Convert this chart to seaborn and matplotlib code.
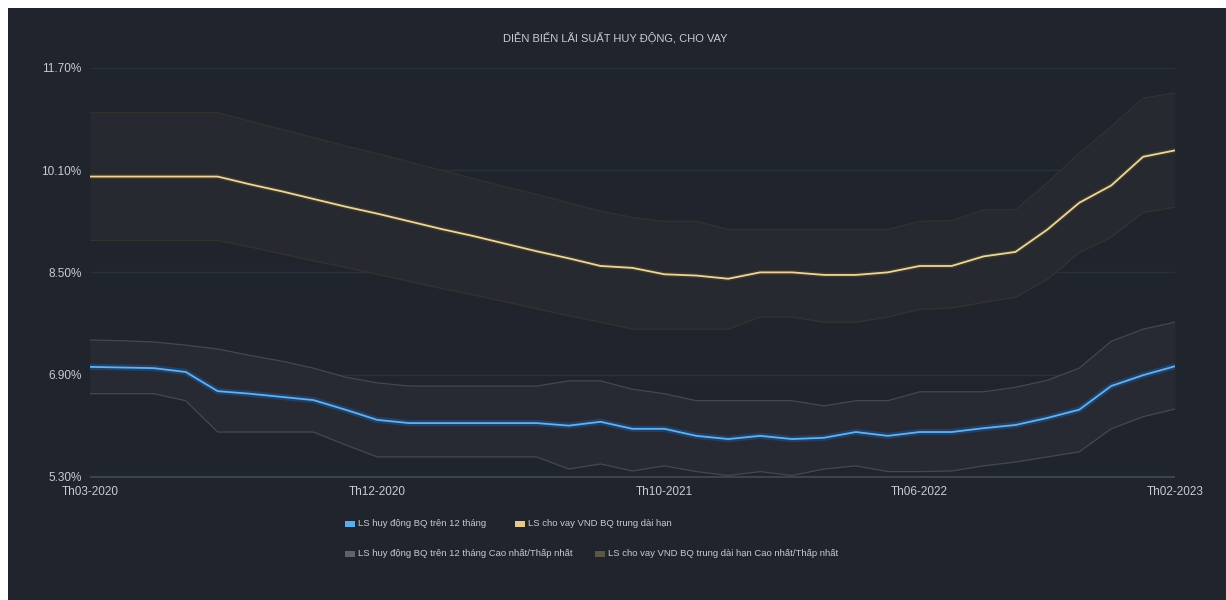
import numpy as np
import pandas as pd
import matplotlib
matplotlib.use("Agg")
import matplotlib.pyplot as plt
import seaborn as sns

# Monthly periods on the category axis
months = [
    "Th03-2020", "Th04-2020", "Th05-2020", "Th06-2020", "Th07-2020", "Th08-2020",
    "Th09-2020", "Th10-2020", "Th11-2020", "Th12-2020", "Th01-2021", "Th03-2021",
    "Th04-2021", "Th05-2021", "Th06-2021", "Th07-2021", "Th08-2021", "Th09-2021",
    "Th10-2021", "Th11-2021", "Th12-2021", "Th01-2022", "Th02-2022", "Th03-2022",
    "Th04-2022", "Th05-2022", "Th06-2022", "Th07-2022", "Th08-2022", "Th09-2022",
    "Th10-2022", "Th11-2022", "Th12-2022", "Th01-2023", "Th02-2023",
]
tick_labels = ["Th03-2020", "Th12-2020", "Th10-2021", "Th06-2022", "Th02-2023"]

# Average deposit rate (>12 months) with its high / low range, %
deposit_avg = [7.02, 7.01, 7.00, 6.94, 6.64, 6.60, 6.55, 6.50, 6.35, 6.19, 6.14, 6.14,
               6.14, 6.14, 6.14, 6.10, 6.16, 6.05, 6.05, 5.94, 5.89, 5.94, 5.89, 5.91,
               6.00, 5.94, 6.00, 6.00, 6.06, 6.11, 6.22, 6.35, 6.72, 6.89, 7.03]
deposit_high = [7.44, 7.43, 7.41, 7.36, 7.30, 7.20, 7.11, 7.00, 6.86, 6.77, 6.72, 6.72,
                6.72, 6.72, 6.72, 6.80, 6.80, 6.67, 6.60, 6.49, 6.49, 6.49, 6.49, 6.41,
                6.49, 6.49, 6.63, 6.63, 6.63, 6.70, 6.81, 7.00, 7.42, 7.61, 7.72]
deposit_low = [6.60, 6.60, 6.60, 6.49, 6.00, 6.00, 6.00, 6.00, 5.80, 5.61, 5.61, 5.61,
               5.61, 5.61, 5.61, 5.42, 5.50, 5.39, 5.47, 5.38, 5.32, 5.38, 5.32, 5.42,
               5.47, 5.38, 5.38, 5.39, 5.47, 5.53, 5.61, 5.69, 6.05, 6.24, 6.36]

# Average medium/long-term VND lending rate with its high / low range, %
lending_avg = [10.00, 10.00, 10.00, 10.00, 10.00, 9.88, 9.77, 9.65, 9.53, 9.42, 9.30, 9.18,
               9.07, 8.95, 8.83, 8.72, 8.60, 8.57, 8.47, 8.45, 8.40, 8.50, 8.50, 8.46,
               8.46, 8.50, 8.60, 8.60, 8.75, 8.82, 9.17, 9.59, 9.86, 10.31, 10.41]
lending_high = [11.00, 11.00, 11.00, 11.00, 11.00, 10.87, 10.74, 10.61, 10.48, 10.36, 10.23, 10.10,
                9.97, 9.84, 9.72, 9.59, 9.46, 9.36, 9.30, 9.30, 9.17, 9.17, 9.17, 9.17,
                9.17, 9.17, 9.30, 9.31, 9.48, 9.48, 9.90, 10.37, 10.78, 11.23, 11.31]
lending_low = [9.00, 9.00, 9.00, 9.00, 9.00, 8.90, 8.79, 8.68, 8.58, 8.47, 8.36, 8.25,
               8.15, 8.04, 7.93, 7.82, 7.72, 7.61, 7.61, 7.61, 7.61, 7.80, 7.80, 7.72,
               7.72, 7.80, 7.92, 7.94, 8.03, 8.11, 8.39, 8.81, 9.05, 9.44, 9.52]

y_ticks = [5.30, 6.90, 8.50, 10.10, 11.70]

title = "DIỄN BIẾN LÃI SUẤT HUY ĐỘNG, CHO VAY"
name_dep = "LS huy động BQ trên 12 tháng"
name_lend = "LS cho vay VND BQ trung dài hạn"
name_dep_rng = "LS huy động BQ trên 12 tháng Cao nhất/Thấp nhất"
name_lend_rng = "LS cho vay VND BQ trung dài hạn Cao nhất/Thấp nhất"

df = pd.DataFrame({
    "idx": np.arange(len(months)),
    "month": months,
    "dep": deposit_avg, "dep_hi": deposit_high, "dep_lo": deposit_low,
    "lend": lending_avg, "lend_hi": lending_high, "lend_lo": lending_low,
})

BG = "#1f242d"
TXT = "#c9ccd1"

sns.set_theme(style="dark")
plt.rcParams["font.family"] = ["Liberation Sans", "DejaVu Sans"]

fig = plt.figure(figsize=(12.26, 6.0), dpi=100)
fig.patch.set_facecolor("white")
# dark panel with a thin light frame on the top and left
fig.patches.append(plt.Rectangle((8 / 1226, 0), 1 - 8 / 1226, 1 - 8 / 600,
                                 transform=fig.transFigure, facecolor=BG,
                                 edgecolor="none", zorder=-5))

ax = fig.add_axes([90 / 1226, 1 - 478 / 600, (1175 - 90) / 1226, (478 - 68) / 600])
ax.set_zorder(2)
ax.set_facecolor(BG)
for s in ax.spines.values():
    s.set_visible(False)

# horizontal grid
for v in y_ticks:
    ax.axhline(v, color="#2a3039" if v != y_ticks[0] else "#3d434c",
               lw=1.0 if v != y_ticks[0] else 1.6, zorder=1)

x = df["idx"].to_numpy()

# ranges
ax.fill_between(x, df["lend_lo"], df["lend_hi"], color="#272930", zorder=2, lw=0)
ax.plot(x, df["lend_hi"], color="#33332e", lw=0.9, zorder=2.5)
ax.plot(x, df["lend_lo"], color="#33332e", lw=0.9, zorder=2.5)
ax.fill_between(x, df["dep_lo"], df["dep_hi"], color="#272a33", zorder=2, lw=0)
ax.plot(x, df["dep_hi"], color="#434851", lw=0.9, zorder=2.5)
ax.plot(x, df["dep_lo"], color="#434851", lw=0.9, zorder=2.5)

# glow under the average lines
ax.plot(x, df["dep"], color="#1c4677", lw=4.5, alpha=0.8, zorder=3,
        solid_capstyle="butt")
ax.plot(x, df["lend"], color="#4a3f22", lw=3.5, alpha=0.7, zorder=3,
        solid_capstyle="butt")

sns.lineplot(data=df, x="idx", y="dep", ax=ax, color="#67b1ea", lw=1.3, zorder=4)
sns.lineplot(data=df, x="idx", y="lend", ax=ax, color="#e8d6a4", lw=1.3, zorder=4)

ax.set_xlim(0, len(months) - 1)
ax.set_ylim(y_ticks[0] - 0.02, y_ticks[-1])
ax.set_xlabel("")
ax.set_ylabel("")

ax.set_yticks(y_ticks)
ax.set_yticklabels([f"{v:.2f}%" for v in y_ticks], color=TXT, fontsize=8.5)
tick_pos = [months.index(m) for m in tick_labels]
ax.set_xticks(tick_pos)
ax.set_xticklabels(tick_labels, color=TXT, fontsize=8.5)
ax.tick_params(axis="both", length=0, pad=6)
ax.grid(False)

# faint watermark
ax.text(17.5, 8.0, "FiinPro-X", color="#2c323b", fontsize=20, ha="center",
        va="center", zorder=1.5)

fig.text(615 / 1226, 1 - 37 / 600, title, color=TXT, fontsize=8,
         ha="center", va="center")

# legend
def legend_item(px, py, color, label):
    fig.patches.append(plt.Rectangle(((px - 5) / 1226, 1 - (py + 3) / 600),
                                     10 / 1226, 6 / 600, transform=fig.transFigure,
                                     facecolor=color, edgecolor="none", zorder=3))
    fig.text((px + 8) / 1226, 1 - py / 600, label, color=TXT, fontsize=6.8,
             ha="left", va="center")

legend_item(350, 524, "#5aacea", name_dep)
legend_item(520, 524, "#e6c98a", name_lend)
legend_item(350, 554, "#5e626b", name_dep_rng)
legend_item(600, 554, "#5a5545", name_lend_rng)

fig.savefig("out.png", dpi=100, facecolor=fig.get_facecolor())
